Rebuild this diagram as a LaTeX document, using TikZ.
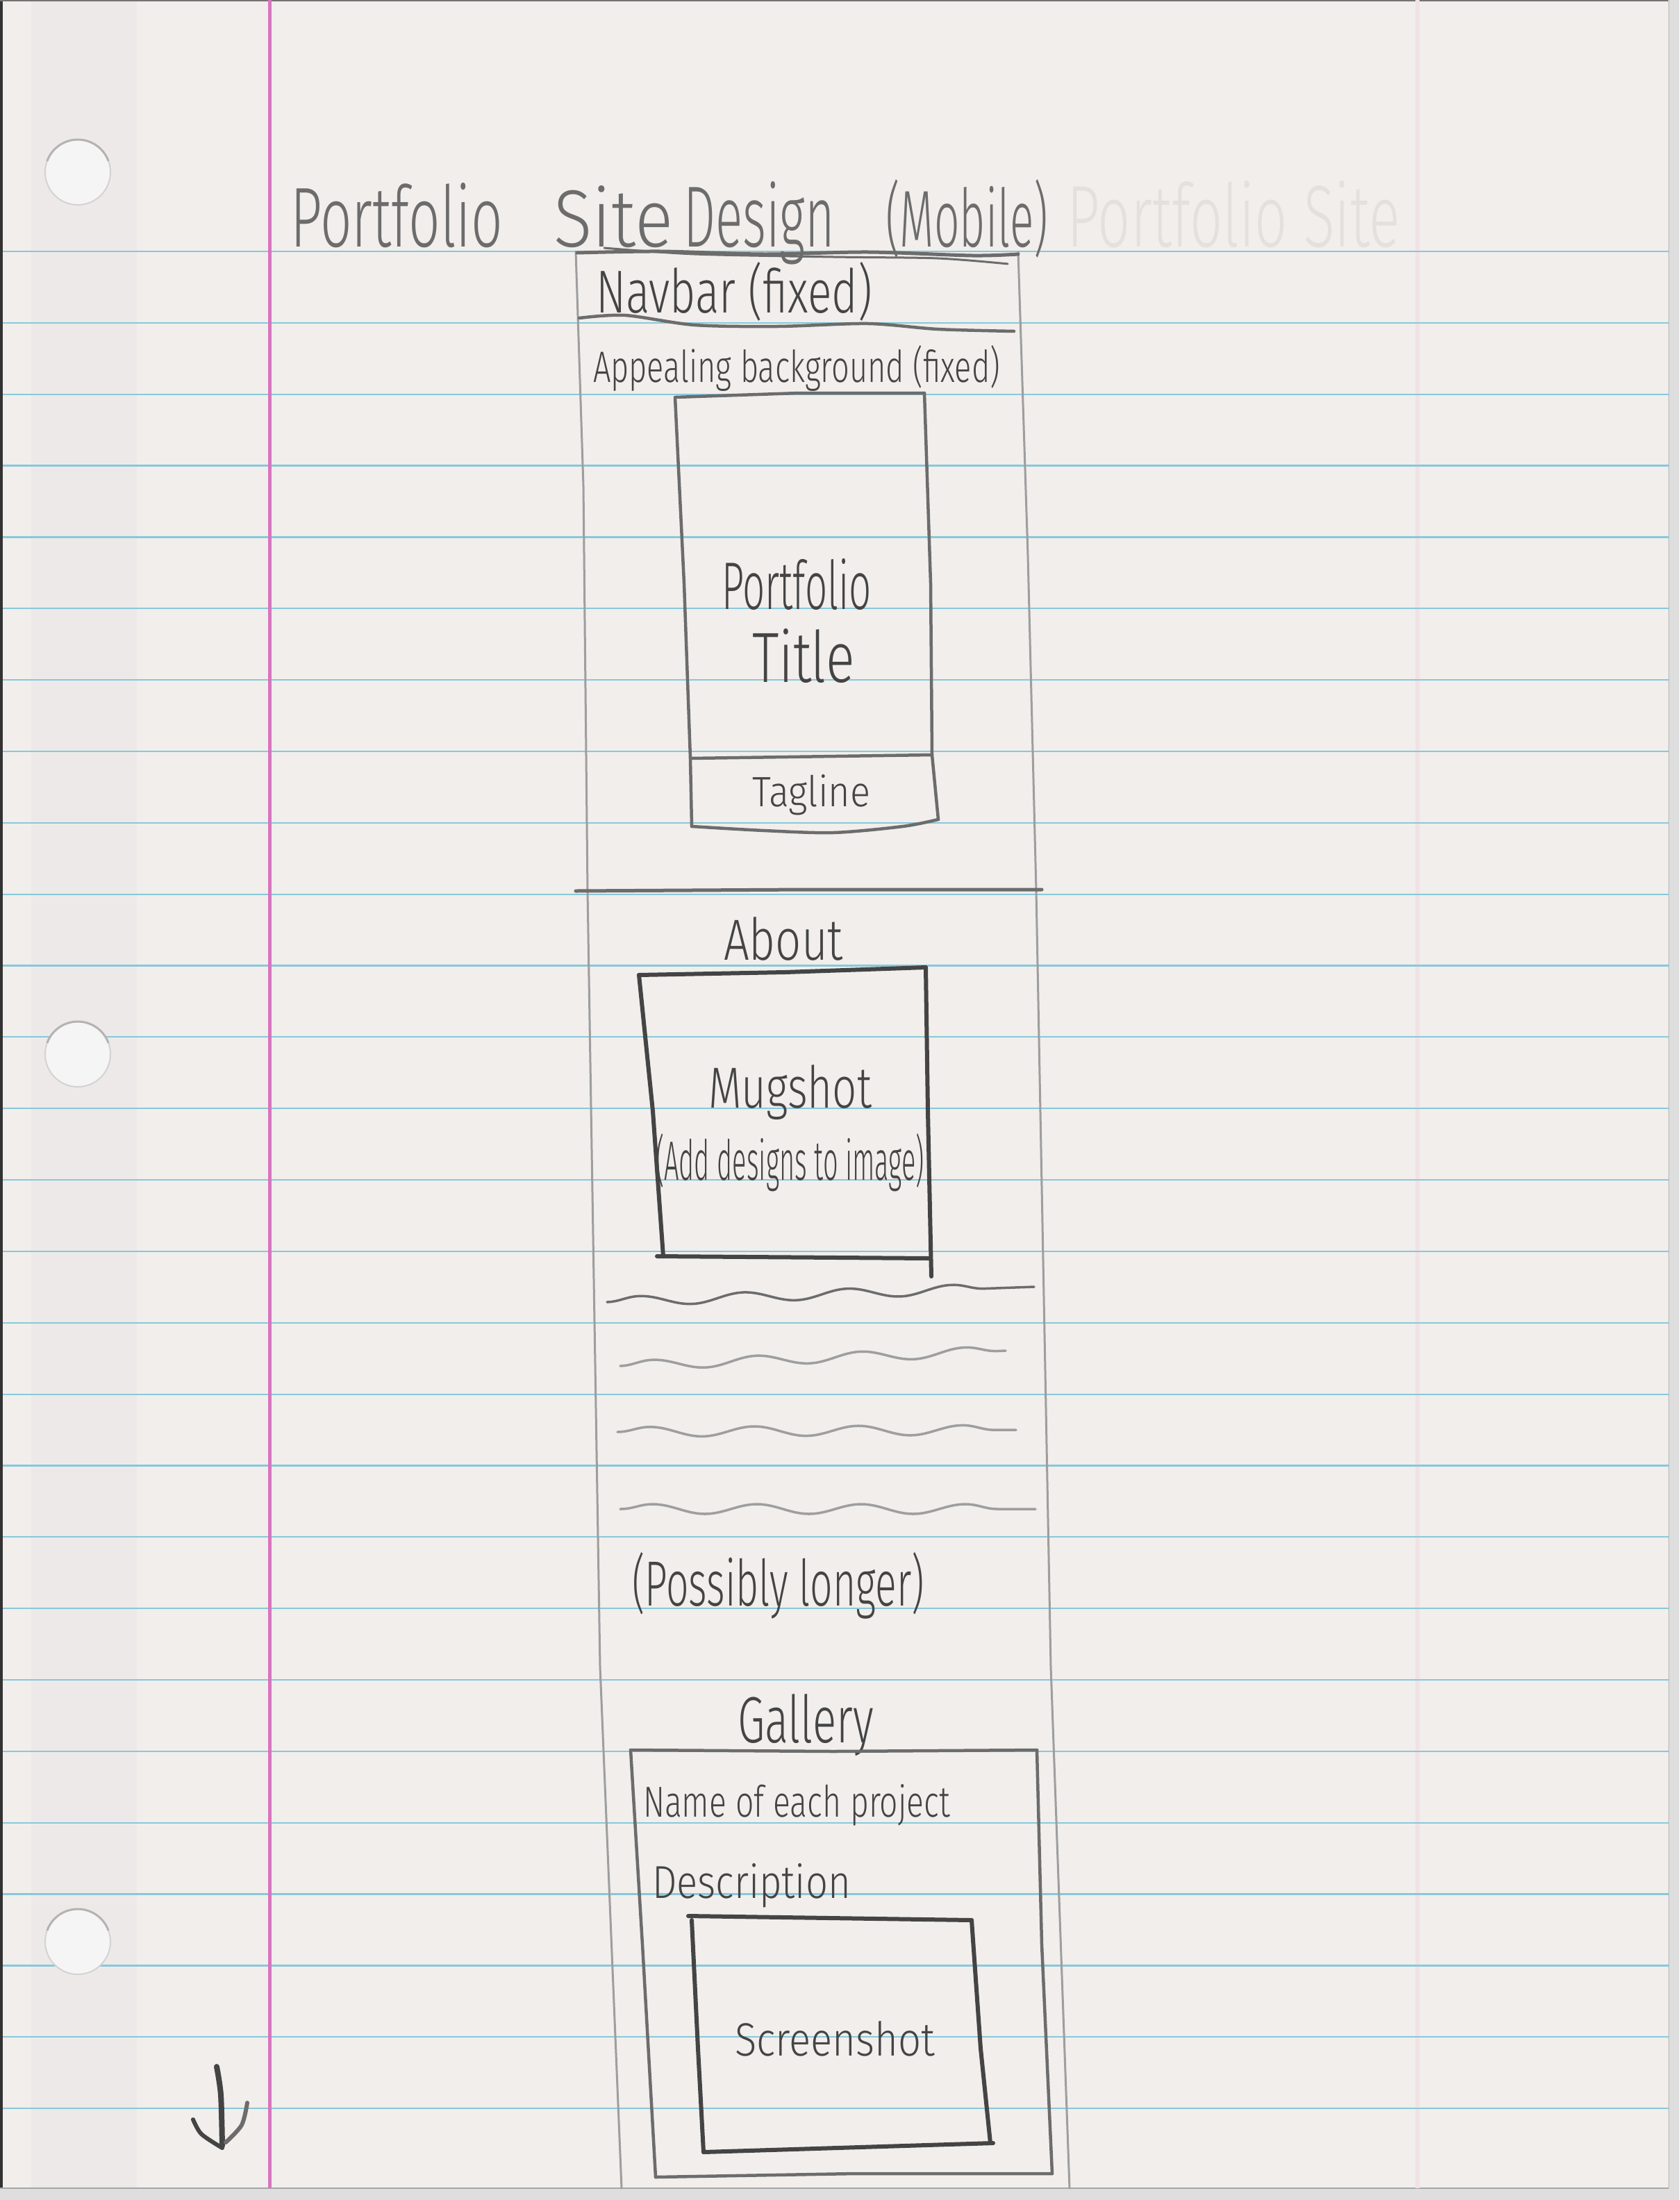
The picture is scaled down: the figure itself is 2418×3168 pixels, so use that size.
\documentclass[tikz,border=0pt]{standalone}
\usepackage{fontspec}
\usepackage{graphicx}
\usetikzlibrary{decorations.pathmorphing}
\IfFontExistsTF{Fira Sans Light}{\newfontfamily\hand{Fira Sans Light}}{\newfontfamily\hand{Fira Sans}}

% paper and pencil colours
\definecolor{paper}{RGB}{241,238,236}
\definecolor{paperband}{RGB}{237,233,232}
\definecolor{scanbg}{RGB}{222,222,222}
\definecolor{ruleblue}{RGB}{136,200,218}
\definecolor{marginpink}{RGB}{214,118,190}
\definecolor{ghostpink}{RGB}{240,226,230}
\definecolor{ghostlead}{RGB}{228,224,222}
\definecolor{leaddark}{RGB}{68,68,68}
\definecolor{leadmid}{RGB}{108,108,108}
\definecolor{leadlight}{RGB}{158,158,158}
\definecolor{holefill}{RGB}{246,245,245}
\definecolor{holeedge}{RGB}{212,210,210}
\definecolor{holerim}{RGB}{180,178,178}

% hand lettering squeezed to a given width and height
\newcommand{\hw}[3]{\resizebox{#1pt}{#2pt}{\hand #3}}

\begin{document}
\begin{tikzpicture}[x=1pt,y=-1pt,
  ruleline/.style={draw=ruleblue, line width=2.2pt},
  frameline/.style={draw=leadlight, line width=3pt, line cap=round, line join=round},
  midline/.style={draw=leadmid, line width=4.5pt, line cap=round, line join=round},
  darkline/.style={draw=leaddark, line width=6pt, line cap=round, line join=round},
  waveline/.style={line width=3.5pt, line cap=round, decorate,
    decoration={snake, amplitude=7pt, segment length=150pt}},
  hole/.style={fill=holefill, draw=holeedge, line width=2pt},
  txt/.style={anchor=base west, inner sep=0pt, outer sep=0pt, text=leaddark}]

\useasboundingbox (0,0) rectangle (2418,3168);

% scanner bed and the sheet
\fill[scanbg] (0,0) rectangle (2418,3168);
\fill[paper] (0,0) rectangle (2403,3151);
\fill[paperband] (45,0) rectangle (197,3151);
\draw[line width=4pt, black!80] (2,0) -- (2,3151);
\draw[line width=2pt, black!55] (0,1) -- (2403,1);
\draw[line width=2pt, black!35] (0,3151) -- (2403,3151);
\draw[line width=1.5pt, black!20] (2403,0) -- (2403,3151);

% faint margin showing through from the next sheet
\draw[ghostpink, line width=6pt] (2041,0) -- (2041,3151);

% ruled lines
\foreach \k in {0,...,26}
  \draw[ruleline] (4,{362+102.85*\k}) -- (2403,{362+102.85*\k});

% margin line
\draw[marginpink, line width=5pt] (388,0) -- (388,3151);

% punched holes, shadowed along their upper rim
\foreach \hy in {248,1518,2796} {
  \filldraw[hole] (112,\hy) circle[radius=47];
  \draw[holerim, line width=3pt] (112,\hy) ++(200:47) arc[start angle=200, end angle=340, radius=47];
}

% faint lettering showing through
\node[txt, text=ghostlead] (ghosttitle) at (1536,355) {\hw{480}{95}{Portfolio Site}};

% heading
\node[txt, text=leadmid] (title) at (418,355) {\hw{306}{92}{Portfolio}\hspace{73pt}\hw{172}{88}{Site}\hspace{15pt}\hw{218}{94}{Design}\hspace{73pt}\hw{234}{97}{(Mobile)}};

% outer phone frame
\draw[frameline] (829,362) -- (840,700) -- (846,1283) -- (864,2400) -- (895,3151);
\draw[frameline] (1466,363) -- (1480,800) -- (1492,1283) -- (1513,2400) -- (1540,3151);
\draw[midline, line width=5pt] plot[smooth] coordinates {(831,364) (950,362) (1100,366) (1250,363) (1400,368) (1466,366)};
\draw[leadmid, line width=3pt, line cap=round] plot[smooth] coordinates {(870,357) (1000,366) (1200,370) (1350,372) (1451,380)};

% navbar
\node[txt] (navbar) at (858,450) {\hw{398}{73}{Navbar (fixed)}};
\draw[midline] plot[smooth] coordinates {(834,458) (900,454) (1000,468) (1120,470) (1250,466) (1350,474) (1460,477)};

% hero section
\node[txt] (background) at (854,550) {\hw{586}{53}{Appealing background (fixed)}};
\draw[midline] (973,572) -- (1150,566) -- (1331,566);
\draw[midline] (972,572) -- (985,840) -- (994,1092) -- (996,1190);
\draw[midline] (1331,566) -- (1340,840) -- (1342,1087) -- (1351,1180);
\draw[midline] (994,1092) -- (1342,1087);
\draw[midline] plot[smooth] coordinates {(996,1190) (1100,1196) (1200,1199) (1300,1190) (1351,1180)};
\node[txt] (portfolio) at (1039,877) {\hw{216}{73}{Portfolio}};
\node[txt] (titleword) at (1083,982) {\hw{148}{77}{Title}};
\node[txt] (tagline) at (1083,1161) {\hw{170}{46}{Tagline}};
\draw[midline, line width=5pt] (829,1283) -- (1160,1281) -- (1500,1281);

% about section
\node[txt] (about) at (1042,1382) {\hw{172}{62}{About}};
\draw[darkline] (920,1404) -- (1130,1400) -- (1333,1393);
\draw[darkline] (920,1404) -- (940,1600) -- (955,1809);
\draw[darkline] (1333,1393) -- (1336,1600) -- (1341,1838);
\draw[darkline] (946,1809) -- (1338,1812);
\node[txt] (mugshot) at (1020,1595) {\hw{235}{62}{Mugshot}};
\node[txt] (designs) at (944,1699) {\hw{387}{67}{(Add designs to image)}};
\draw[waveline, draw=leadmid] (874,1875) -- (1489,1853);
\draw[waveline, draw=leadlight] (893,1967) -- (1448,1945);
\draw[waveline, draw=leadlight] (889,2062) -- (1463,2059);
\draw[waveline, draw=leadlight] (893,2173) -- (1491,2173);
\node[txt] (longer) at (910,2312) {\hw{421}{77}{(Possibly longer)}};

% gallery section
\node[txt] (gallery) at (1062,2509) {\hw{196}{70}{Gallery}};
\draw[midline] (908,2520) -- (1200,2522) -- (1493,2520);
\draw[midline] (908,2520) -- (925,2800) -- (944,3135);
\draw[midline] (1493,2520) -- (1500,2800) -- (1515,3130);
\draw[midline] (944,3135) -- (1230,3130) -- (1515,3130);
\node[txt] (projname) at (926,2616) {\hw{442}{47}{Name of each project}};
\node[txt] (description) at (939,2733) {\hw{286}{50}{Description}};
\draw[darkline] (991,2759) -- (1399,2765);
\draw[darkline] (996,2765) -- (1005,2950) -- (1013,3099);
\draw[darkline] (1399,2765) -- (1412,2950) -- (1426,3086);
\draw[darkline] (1013,3099) -- (1430,3086);
\node[txt] (screenshot) at (1058,2960) {\hw{288}{50}{Screenshot}};

% continue-on-next-page arrow
\draw[darkline, line width=8pt] plot[smooth] coordinates {(312,2976) (318,3017) (320,3090)};
\draw[darkline] plot[smooth] coordinates {(278,3052) (290,3073) (320,3093)};
\draw[darkline, draw=leadmid] plot[smooth] coordinates {(356,3028) (348,3060) (325,3085)};
\end{tikzpicture}
\end{document}
